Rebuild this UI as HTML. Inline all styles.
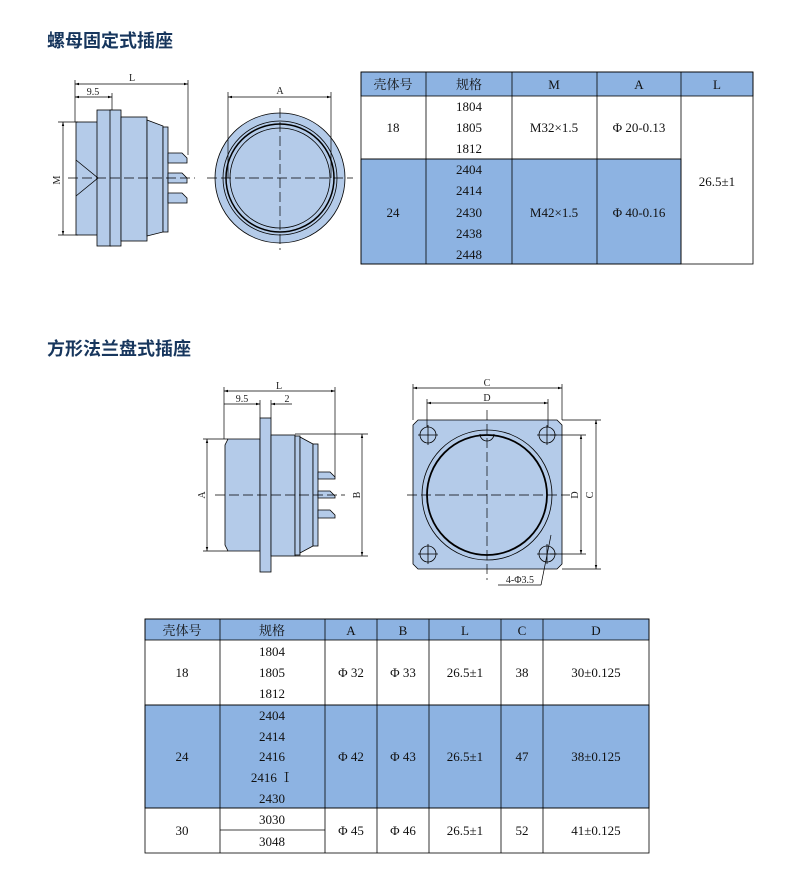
<!DOCTYPE html>
<html><head><meta charset="utf-8"><style>
html,body{margin:0;padding:0;background:#fff;width:800px;height:869px;overflow:hidden}
svg{display:block}
.t{font-family:"Liberation Serif","Noto Serif CJK SC",serif;font-size:13px;fill:#111;text-anchor:middle}
.h{font-family:"Liberation Sans","Noto Sans CJK SC",sans-serif;font-size:18px;font-weight:bold;fill:#17365d}
.d{font-family:"Liberation Serif","Noto Serif CJK SC",serif;font-size:10px;fill:#222;text-anchor:middle}
</style></head><body>
<svg width="800" height="869" viewBox="0 0 800 869" xmlns="http://www.w3.org/2000/svg">
<defs><marker id="a" viewBox="0 0 10 10" refX="10" refY="5" markerWidth="6" markerHeight="6" orient="auto-start-reverse"><path d="M0,2 L10,5 L0,8z" fill="#000"/></marker></defs>
<text class="h" x="47" y="47">螺母固定式插座</text>
<text class="h" x="47" y="355">方形法兰盘式插座</text>

<!-- Drawing 1 side -->
<g stroke="#000" stroke-width="0.8" fill="#b4cbe9">
<rect x="76" y="122" width="22" height="113"/>
<rect x="97" y="110" width="14" height="136"/>
<rect x="110" y="110" width="11" height="136"/>
<rect x="121" y="117" width="26" height="124"/>
<path d="M147,120 L163,126 L163,232 L147,236z"/>
<rect x="163" y="127" width="5" height="105"/>
<path d="M168,153 L182,153 L187,158 L187,163 L168,163z"/>
<path d="M168,173 L182,173 L187,178 L187,183 L168,183z"/>
<path d="M168,193 L182,193 L187,198 L187,203 L168,203z"/>
</g>
<path d="M76,160 L98,178 L76,196" stroke="#000" fill="none" stroke-width="0.8"/>
<g stroke="#000" stroke-width="0.7" fill="none">
<line x1="75" y1="80" x2="75" y2="122"/><line x1="188" y1="80" x2="188" y2="155"/>
<line x1="75" y1="84" x2="188" y2="84" marker-start="url(#a)" marker-end="url(#a)"/>
<line x1="112" y1="93" x2="112" y2="110"/>
<line x1="75" y1="97" x2="112" y2="97" marker-start="url(#a)" marker-end="url(#a)"/>
<line x1="58" y1="122" x2="78" y2="122"/><line x1="58" y1="235" x2="78" y2="235"/>
<line x1="63" y1="122" x2="63" y2="235" marker-start="url(#a)" marker-end="url(#a)"/>
<line x1="68" y1="178" x2="195" y2="178" stroke-dasharray="10,4"/>
</g>
<text class="d" x="132" y="81">L</text><text class="d" x="93" y="95">9.5</text>
<text class="d" x="60" y="180" transform="rotate(-90 60 180)">M</text>

<!-- Drawing 1 front -->
<g stroke="#000" stroke-width="0.8" fill="#b4cbe9">
<circle cx="280" cy="178" r="65"/>
<circle cx="280" cy="178" r="57"/>
<circle cx="280" cy="178" r="54" stroke-width="1.5"/>
<circle cx="280" cy="178" r="50"/>
</g>
<g stroke="#000" stroke-width="0.7" fill="none">
<line x1="228" y1="92" x2="228" y2="178"/><line x1="331" y1="92" x2="331" y2="178"/>
<line x1="228" y1="97" x2="331" y2="97" marker-start="url(#a)" marker-end="url(#a)"/>
<line x1="207" y1="178" x2="353" y2="178" stroke-dasharray="10,4"/>
<line x1="280" y1="108" x2="280" y2="250" stroke-dasharray="10,4"/>
</g>
<text class="d" x="280" y="94">A</text>

<!-- Table 1 -->
<g stroke="#000" stroke-width="0.8">
<rect x="361" y="72" width="392" height="24" fill="#8db3e2"/>
<rect x="361" y="159" width="320" height="105" fill="#8db3e2"/>
<rect x="361" y="72" width="392" height="192" fill="none"/>
<line x1="426" y1="72" x2="426" y2="264"/><line x1="512" y1="72" x2="512" y2="264"/>
<line x1="597" y1="72" x2="597" y2="264"/><line x1="681" y1="72" x2="681" y2="264"/>
<line x1="361" y1="159" x2="681" y2="159"/>
</g>
<g class="t">
<text x="393" y="89">壳体号</text><text x="469" y="89">规格</text><text x="554" y="89">M</text><text x="639" y="89">A</text><text x="717" y="89">L</text>
<text x="393" y="132">18</text><text x="469" y="111">1804</text><text x="469" y="132">1805</text><text x="469" y="153">1812</text>
<text x="554" y="132">M32×1.5</text><text x="639" y="132">Φ 20-0.13</text>
<text x="393" y="217">24</text><text x="469" y="174">2404</text><text x="469" y="195">2414</text><text x="469" y="217">2430</text><text x="469" y="238">2438</text><text x="469" y="259">2448</text>
<text x="554" y="217">M42×1.5</text><text x="639" y="217">Φ 40-0.16</text>
<text x="717" y="186">26.5±1</text>
</g>

<!-- Drawing 2 side -->
<g stroke="#000" stroke-width="0.8" fill="#b4cbe9">
<path d="M228,439 L260,439 L260,551 L228,551 L225,545 L225,445z"/>
<rect x="260" y="418" width="11" height="154"/>
<rect x="271" y="435" width="24" height="121"/>
<rect x="295" y="436" width="5" height="119"/>
<path d="M300,437 L313,444 L313,546 L300,553z"/>
<rect x="313" y="444" width="5" height="102"/>
<path d="M318,472 L330,472 L335,477 L335,479 L318,479z"/>
<path d="M318,491 L330,491 L335,496 L335,498 L318,498z"/>
<path d="M318,510 L330,510 L335,515 L335,518 L318,518z"/>
</g>
<g stroke="#000" stroke-width="0.7" fill="none">
<line x1="224" y1="387" x2="224" y2="439"/><line x1="335" y1="387" x2="335" y2="477"/>
<line x1="224" y1="391" x2="335" y2="391" marker-start="url(#a)" marker-end="url(#a)"/>
<line x1="260" y1="400" x2="260" y2="418"/><line x1="271" y1="400" x2="271" y2="418"/>
<line x1="224" y1="404" x2="260" y2="404" marker-end="url(#a)"/>
<line x1="271" y1="404" x2="292" y2="404" marker-start="url(#a)"/>
<line x1="203" y1="439" x2="228" y2="439"/><line x1="203" y1="551" x2="228" y2="551"/>
<line x1="207" y1="439" x2="207" y2="551" marker-start="url(#a)" marker-end="url(#a)"/>
<line x1="295" y1="434" x2="368" y2="434"/><line x1="295" y1="556" x2="368" y2="556"/>
<line x1="362" y1="434" x2="362" y2="556" marker-start="url(#a)" marker-end="url(#a)"/>
<line x1="215" y1="495" x2="345" y2="495" stroke-dasharray="10,4"/>
</g>
<text class="d" x="279" y="389">L</text><text class="d" x="242" y="402">9.5</text><text class="d" x="287" y="402">2</text>
<text class="d" x="205" y="495" transform="rotate(-90 205 495)">A</text>
<text class="d" x="360" y="495" transform="rotate(-90 360 495)">B</text>

<!-- Drawing 2 front -->
<g stroke="#000" stroke-width="0.8" fill="#b4cbe9">
<path d="M418,420 L557,420 L562,425 L562,564 L557,569 L418,569 L413,564 L413,425z"/>
<circle cx="487" cy="495" r="65"/>
<circle cx="487" cy="495" r="60" stroke-width="1.8"/>
<path d="M480,434 A7,7 0 0 0 494,434" fill="none"/>
</g>
<g stroke="#000" stroke-width="0.8" fill="none">
<circle cx="428" cy="435" r="8"/><circle cx="547" cy="435" r="8"/><circle cx="428" cy="554" r="8"/><circle cx="547" cy="554" r="8"/>
<path d="M418,435h20M428,425v20M537,435h20M547,425v20M418,554h20M428,544v20M537,554h20M547,544v20"/>
</g>
<g stroke="#000" stroke-width="0.7" fill="none">
<line x1="413" y1="384" x2="413" y2="420"/><line x1="562" y1="384" x2="562" y2="420"/>
<line x1="413" y1="388" x2="562" y2="388" marker-start="url(#a)" marker-end="url(#a)"/>
<line x1="427" y1="399" x2="427" y2="427"/><line x1="548" y1="399" x2="548" y2="427"/>
<line x1="427" y1="403" x2="548" y2="403" marker-start="url(#a)" marker-end="url(#a)"/>
<line x1="550" y1="435" x2="586" y2="435"/><line x1="550" y1="554" x2="586" y2="554"/>
<line x1="581" y1="435" x2="581" y2="554" marker-start="url(#a)" marker-end="url(#a)"/>
<line x1="562" y1="420" x2="601" y2="420"/><line x1="562" y1="569" x2="601" y2="569"/>
<line x1="596" y1="420" x2="596" y2="569" marker-start="url(#a)" marker-end="url(#a)"/>
<line x1="407" y1="495" x2="570" y2="495" stroke-dasharray="10,4"/>
<line x1="487" y1="410" x2="487" y2="580" stroke-dasharray="10,4"/>
<line x1="551" y1="535" x2="541" y2="585"/>
<line x1="498" y1="585" x2="541" y2="585"/>
</g>
<text class="d" x="487" y="386">C</text><text class="d" x="487" y="401">D</text>
<text class="d" x="578" y="495" transform="rotate(-90 578 495)">D</text>
<text class="d" x="593" y="495" transform="rotate(-90 593 495)">C</text>
<text class="d" x="520" y="583">4-Φ3.5</text>

<!-- Table 2 -->
<g stroke="#000" stroke-width="0.8">
<rect x="145" y="619" width="504" height="21" fill="#8db3e2"/>
<rect x="145" y="705" width="504" height="103" fill="#8db3e2"/>
<rect x="145" y="619" width="504" height="234" fill="none"/>
<line x1="220" y1="619" x2="220" y2="853"/><line x1="325" y1="619" x2="325" y2="853"/>
<line x1="377" y1="619" x2="377" y2="853"/><line x1="429" y1="619" x2="429" y2="853"/>
<line x1="501" y1="619" x2="501" y2="853"/><line x1="543" y1="619" x2="543" y2="853"/>
<line x1="145" y1="705" x2="649" y2="705"/><line x1="145" y1="808" x2="649" y2="808"/>
<line x1="220" y1="830" x2="325" y2="830"/>
</g>
<g class="t">
<text x="182" y="635">壳体号</text><text x="272" y="635">规格</text><text x="351" y="635">A</text><text x="403" y="635">B</text><text x="465" y="635">L</text><text x="522" y="635">C</text><text x="596" y="635">D</text>
<text x="182" y="677">18</text><text x="272" y="656">1804</text><text x="272" y="677">1805</text><text x="272" y="698">1812</text>
<text x="351" y="677">Φ 32</text><text x="403" y="677">Φ 33</text><text x="465" y="677">26.5±1</text><text x="522" y="677">38</text><text x="596" y="677">30±0.125</text>
<text x="182" y="761">24</text><text x="272" y="720">2404</text><text x="272" y="741">2414</text><text x="272" y="761">2416</text><text x="272" y="782">2416 Ⅰ</text><text x="272" y="803">2430</text>
<text x="351" y="761">Φ 42</text><text x="403" y="761">Φ 43</text><text x="465" y="761">26.5±1</text><text x="522" y="761">47</text><text x="596" y="761">38±0.125</text>
<text x="182" y="835">30</text><text x="272" y="824">3030</text><text x="272" y="846">3048</text>
<text x="351" y="835">Φ 45</text><text x="403" y="835">Φ 46</text><text x="465" y="835">26.5±1</text><text x="522" y="835">52</text><text x="596" y="835">41±0.125</text>
</g>
</svg>
</body></html>
